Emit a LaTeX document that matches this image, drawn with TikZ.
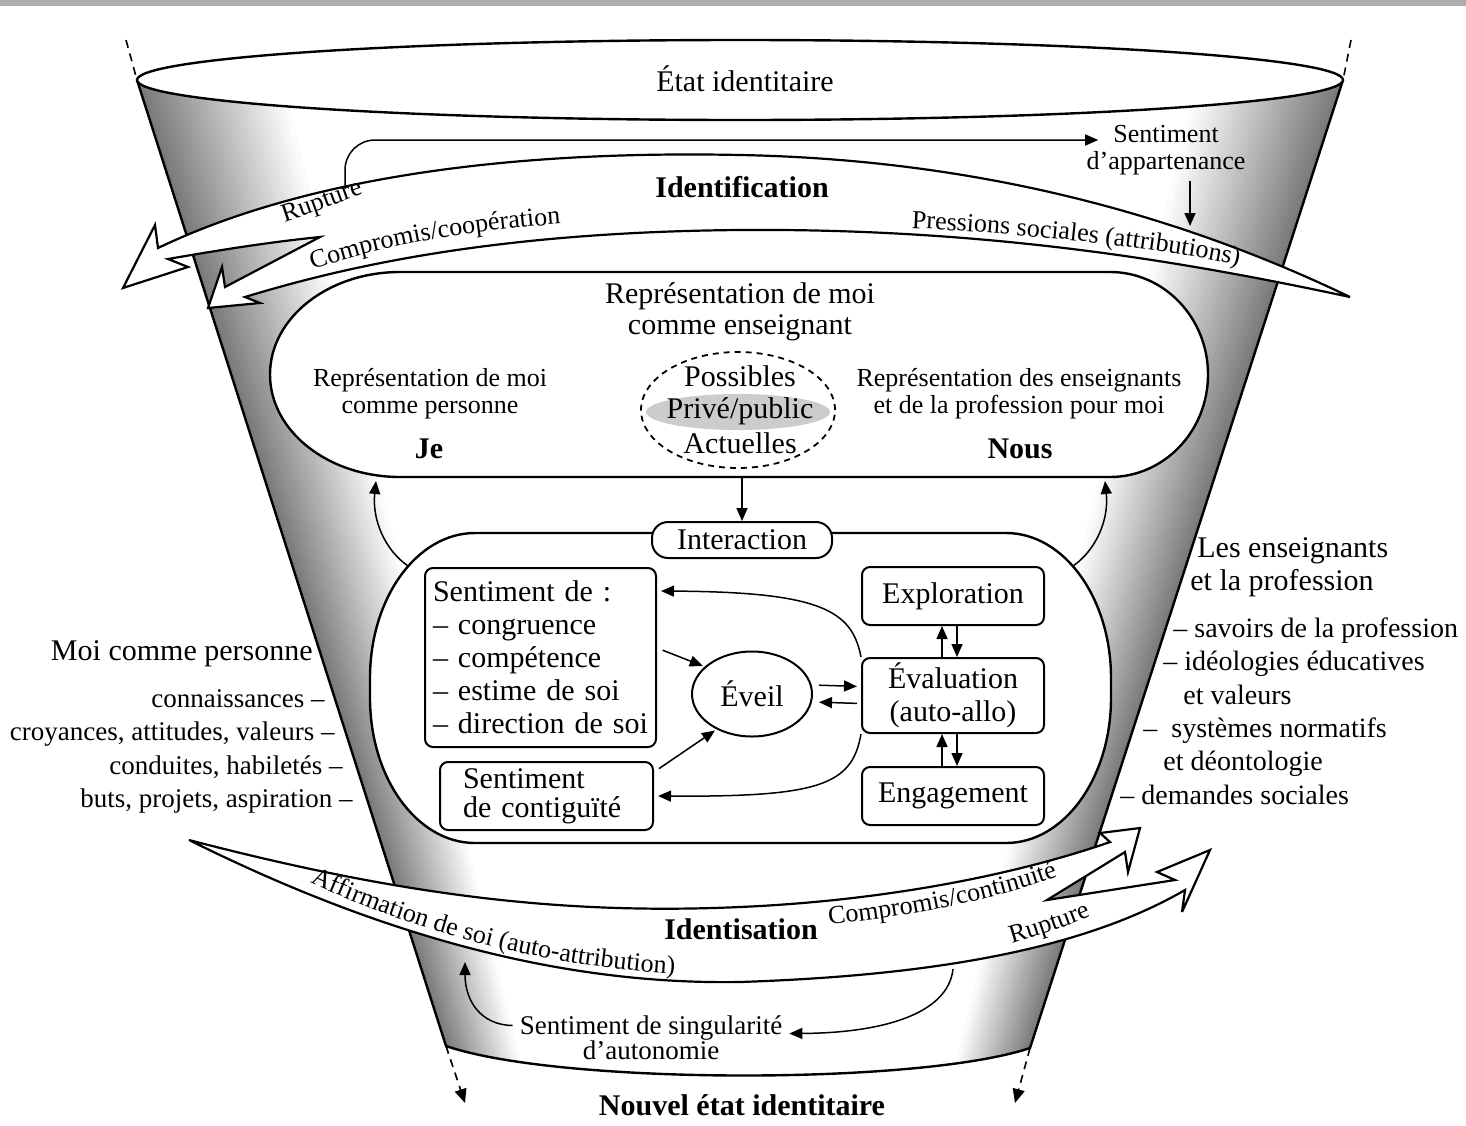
\documentclass[tikz,border=0pt]{standalone}
\usepackage{fontspec}
\setmainfont{Liberation Serif}
\usetikzlibrary{arrows.meta,calc,shapes.geometric,decorations.text}
\newcommand\fsB{\fontsize{13}{13}\selectfont}
\begin{document}
\begin{tikzpicture}[x=0.5pt,y=-0.5pt,
  ol/.style={line width=1.2pt, line join=round},
  ribbon/.style={draw, line width=1.1pt, fill=white, line join=miter, miter limit=6},
  thinarr/.style={line width=0.75pt, -{Triangle[length=6.5pt,width=5.5pt]}},
  ibox/.style={draw, line width=1pt, rounded corners=4pt, fill=white, inner sep=0pt},
  dashpat/.style={line width=0.8pt, dash pattern=on 4pt off 3pt},
  fA/.style={font=\fontsize{15}{15.5}\selectfont},
  fB/.style={font=\fontsize{13}{13}\selectfont},
  fBB/.style={font=\fontsize{13}{13.5}\selectfont},
  fD/.style={font=\fontsize{15}{16.5}\selectfont},
  fL/.style={font=\fontsize{13.5}{13.5}\selectfont},
  fR/.style={font=\fontsize{14}{14}\selectfont},
  fbold/.style={font=\fontsize{15}{15.5}\selectfont\bfseries},
  sl/.style={text height=10pt, text depth=3pt, inner sep=0pt}]
\useasboundingbox (0,0) rectangle (1466,1125);
\fill[black!32] (0,0) rectangle (1466,6);

% funnel
\coordinate (LT) at (137,80);
\coordinate (LB) at (446,1046);
\coordinate (RT) at (1343,80);
\coordinate (RB) at (1030,1048);
\coordinate (LTx) at ($(LB)!1.05!(LT)$);
\coordinate (LBx) at ($(LT)!1.06!(LB)$);
\coordinate (RTx) at ($(RB)!1.05!(RT)$);
\coordinate (RBx) at ($(RT)!1.06!(RB)$);
\begin{scope}
\clip (LT) -- (LB) .. controls (560,1085) and (920,1085) .. (RB) -- (RT) -- cycle;
\foreach \i in {0,...,29}{
  \pgfmathsetmacro\fa{\i*0.004}
  \pgfmathsetmacro\fb{(\i+1)*0.004+0.0015}
  \pgfmathsetmacro\fc{52*(1-\i/30)}
  \pgfmathsetmacro\ga{1-\fa}
  \pgfmathsetmacro\gb{1-\fb}
  \fill[black!\fc] ($(LTx)!\fa!(RTx)$) -- ($(LTx)!\fb!(RTx)$) -- ($(LBx)!\fb!(RBx)$) -- ($(LBx)!\fa!(RBx)$) -- cycle;
  \fill[black!\fc] ($(LTx)!\ga!(RTx)$) -- ($(LTx)!\gb!(RTx)$) -- ($(LBx)!\gb!(RBx)$) -- ($(LBx)!\ga!(RBx)$) -- cycle;
}
\end{scope}
\draw[ol] (LT) -- (LB) .. controls (560,1085) and (920,1085) .. (RB) -- (RT);

% top ellipse
\draw[ol, fill=white] (740,80) ellipse [x radius=301.5pt, y radius=20pt];
\node[fA, sl] (etat) at (745,84) {État identitaire};
\coordinate (dl1) at (126,40);
\coordinate (dr1) at (1351,40);
\draw[dashpat] (dl1) -- (LT);
\draw[dashpat] (dr1) -- (RT);
\coordinate (db2) at (465,1103);
\coordinate (db4) at (1015,1103);
\draw[dashpat, -{Triangle[length=7pt,width=6pt]}] (LB) -- (db2);
\draw[dashpat, -{Triangle[length=7pt,width=6pt]}] (RB) -- (db4);

% upper band (identification)
\path[ribbon] (1350,297) .. controls (1200,225) and (1000,160) .. (740,155)
  .. controls (500,150) and (300,180) .. (158,248) -- (155,225) -- (123,288) -- (188,267) -- (168,259)
  .. controls (220,250) and (270,242) .. (320,237) -- (225,287) -- (222,267) -- (208,308) -- (260,303) -- (245,297)
  .. controls (350,265) and (500,232) .. (740,230) .. controls (1000,228) and (1200,265) .. (1350,297) -- cycle;
\node[fbold, sl] (ident) at (742,190) {Identification};
\path[decorate, decoration={text along path, text align=center, text={|\fsB|Rupture}}]
  (276,225) .. controls (308,215) and (338,203) .. (372,191);
\path[decorate, decoration={text along path, text align=center, text={|\fsB|Compromis/coopération}}]
  (302,273) .. controls (380,246) and (460,231) .. (572,223);
\path[decorate, decoration={text along path, text align=center, text={|\fsB|Pressions sociales (attributions)}}]
  (905,228) .. controls (1000,232) and (1150,245) .. (1245,267);

% sentiment d'appartenance
\node[fBB, align=center, inner sep=0pt] (appart) at (1166,150) {Sentiment\\d’appartenance};
\coordinate (sa) at (345,186);
\coordinate (sb) at (1190,226);
\draw[thinarr, rounded corners=15pt] (sa) |- ([xshift=6pt,yshift=5pt]appart.west);
\draw[thinarr] ([xshift=12pt,yshift=-3pt]appart.south) -- (sb);

% oval
\path[draw, line width=1.2pt, fill=white] (400,272) -- (1110,272)
  arc[start angle=90, end angle=-90, x radius=49pt, y radius=51.25pt] -- (400,477)
  arc[start angle=270, end angle=90, x radius=65pt, y radius=51.25pt] -- cycle;
\node[fA, align=center] (repens) at (740,311.5) {Représentation de moi\\comme enseignant};
\node[fBB, align=center] (repper) at (430,393.5) {Représentation de moi\\comme personne};
\node[fBB, align=center] (repnous) at (1019,393.5) {Représentation des enseignants\\et de la profession pour moi};
\node[fbold, sl] (je) at (429,451) {Je};
\node[fbold, sl] (nous) at (1020,451) {Nous};
\draw[line width=0.9pt, dash pattern=on 3pt off 2.5pt] (738,410) ellipse [x radius=48.5pt, y radius=29pt];
\fill[black!20] (738,412) ellipse [x radius=46pt, y radius=9pt];
\node[fA, sl] (poss) at (740,379) {Possibles};
\node[fA, sl] (prive) at (740,411) {Privé/public};
\node[fA, sl] (actu) at (740,446) {Actuelles};
\coordinate (ovb) at (742,477);

% inner box
\path[draw, line width=1.2pt, fill=white] (475,533) -- (1006,533)
  arc[start angle=90, end angle=0, x radius=52.5pt, y radius=72.5pt] -- (1111,698)
  arc[start angle=0, end angle=-90, x radius=52.5pt, y radius=72.5pt] -- (475,843)
  arc[start angle=270, end angle=180, x radius=52.5pt, y radius=72.5pt] -- (370,678)
  arc[start angle=180, end angle=90, x radius=52.5pt, y radius=72.5pt] -- cycle;
\node[draw, line width=1pt, rounded corners=8pt, fill=white, minimum width=90pt, minimum height=18pt, inner sep=0pt, fA] (inter) at (742,540) {Interaction};
\draw[thinarr] (ovb) -- (inter.north);
\coordinate (cl1) at (408,566);
\coordinate (cl2) at (376,481);
\coordinate (cr1) at (1073,566);
\coordinate (cr2) at (1105,481);
\draw[thinarr] (cl1) .. controls (385,550) and (372,520) .. (cl2);
\draw[thinarr] (cr1) .. controls (1096,550) and (1109,520) .. (cr2);

\node[ibox, minimum width=115.5pt, minimum height=89.5pt, text width=107.5pt, align=left, fD] (sent) at (540.5,657.5)
  {Sentiment de~:\\– congruence\\– compétence\\– estime de soi\\– direction de soi};
\node[ibox, minimum width=106.5pt, minimum height=34pt, text width=83.5pt, align=left, font=\fontsize{15}{14.5}\selectfont] (contig) at (546.5,796)
  {Sentiment\\de contiguïté};
\node[draw, ellipse, line width=1pt, minimum width=60pt, minimum height=42.5pt, inner sep=0pt, fill=white, fA] (eveil) at (752,694) {Éveil};
\node[ibox, minimum width=91pt, minimum height=29pt, fA] (expl) at (953,596) {Exploration};
\node[ibox, minimum width=91pt, minimum height=37.5pt, align=center, fD] (eval) at (953,695.5) {Évaluation\\(auto-allo)};
\node[ibox, minimum width=91pt, minimum height=29pt, fA] (engag) at (953,796) {Engagement};

\draw[thinarr] ([xshift=-5.5pt]eval.north) -- ([xshift=-5.5pt]expl.south);
\draw[thinarr] ([xshift=2pt]expl.south) -- ([xshift=2pt]eval.north);
\draw[thinarr] ([xshift=-5.5pt]engag.north) -- ([xshift=-5.5pt]eval.south);
\draw[thinarr] ([xshift=2pt]eval.south) -- ([xshift=2pt]engag.north);
\draw[thinarr, shorten <=3pt, shorten >=2pt] ([yshift=4.5pt]eveil.east) -- ([yshift=4.5pt]eval.west);
\draw[thinarr, shorten <=2pt, shorten >=3pt] ([yshift=-4pt]eval.west) -- ([yshift=-4pt]eveil.east);
\draw[thinarr, shorten <=3pt, shorten >=1pt] ([yshift=4.75pt]sent.east) -- (eveil.150);
\draw[thinarr, shorten <=3pt, shorten >=1pt] ([yshift=12pt]contig.east) -- (eveil.225);
\draw[thinarr, shorten >=2pt] (eval.north west) .. controls (852,610) and (820,592) .. ([yshift=-12pt]sent.north east);
\draw[thinarr, shorten >=2pt] (eval.south west) .. controls (852,785) and (820,797) .. (contig.east);

% lower band (identisation)
\path[ribbon] (189,840) .. controls (400,895) and (560,915) .. (740,907)
  .. controls (900,900) and (1030,870) .. (1110,842) -- (1100,833) -- (1140,828) -- (1128,872) -- (1125,852)
  -- (1047,900) -- (1175,880) -- (1157,872) -- (1210,850) -- (1182,912) -- (1185,890)
  .. controls (1090,945) and (950,975) .. (740,982) .. controls (560,985) and (380,935) .. (189,840) -- cycle;
\node[fbold, sl] (identis) at (741,932) {Identisation};
\path[decorate, decoration={text along path, text align=center, text={|\fsB|Rupture}}]
  (1000,947) .. controls (1032,938) and (1072,925) .. (1102,911);
\path[decorate, decoration={text along path, text align=center, text={|\fsB|Compromis/continuité}}]
  (816,926) .. controls (900,918) and (995,901) .. (1070,872);
\path[decorate, decoration={text along path, text align=center, text={|\fsB|Affirmation de soi (auto-attribution)}}]
  (298,877) .. controls (400,925) and (520,965) .. (688,975);

% singularite
\node[font=\fontsize{13.5}{12.5}\selectfont, align=center] (singul) at (651,1037.5) {Sentiment de singularité\\d’autonomie};
\coordinate (ca) at (465,962);
\coordinate (cb) at (953,969);
\draw[thinarr] ([yshift=6pt]singul.west) .. controls (480,1025) and (465,1000) .. (ca);
\draw[thinarr] (cb) .. controls (948,1015) and (880,1033) .. ([yshift=2pt]singul.east);

\node[fbold, sl] (nouvel) at (742,1108) {Nouvel état identitaire};

% left texts
\node[fA, sl, anchor=east] (moi) at (313,653) {Moi comme personne};
\node[fL, sl, anchor=east] (l1) at (325,700) {connaissances –};
\node[fL, sl, anchor=east] (l2) at (335,733) {croyances, attitudes, valeurs –};
\node[fL, sl, anchor=east] (l3) at (343,767) {conduites, habiletés –};
\node[fL, sl, anchor=east] (l4) at (353,800) {buts, projets, aspiration –};

% right texts
\node[fA, sl, anchor=west] (r0) at (1197,550) {Les enseignants};
\node[fA, sl, anchor=west] (r0b) at (1190,583) {et la profession};
\node[fR, sl, anchor=west] (r1) at (1173,630) {– savoirs de la profession};
\node[fR, sl, anchor=west] (r2) at (1163,663) {– idéologies éducatives};
\node[fR, sl, anchor=west] (r2b) at (1183,697) {et valeurs};
\node[fR, sl, anchor=west] (r3) at (1143,730) {–\ \ systèmes normatifs};
\node[fR, sl, anchor=west] (r3b) at (1163,763) {et déontologie};
\node[fR, sl, anchor=west] (r4) at (1120,797) {– demandes sociales};
\end{tikzpicture}
\end{document}
